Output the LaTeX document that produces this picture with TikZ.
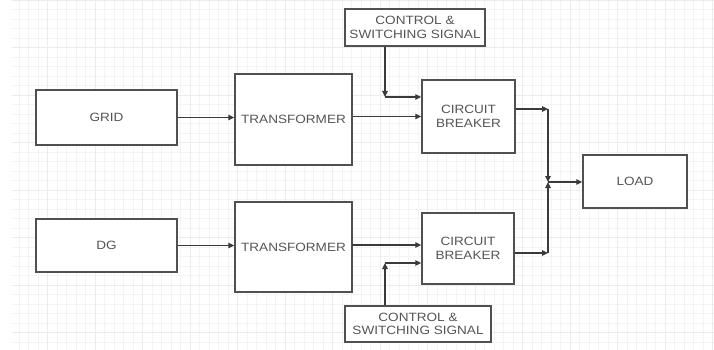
\documentclass[tikz,border=0pt]{standalone}
\usepackage{fontspec}
\setmainfont{Liberation Sans}[FakeStretch=1.13]
\usetikzlibrary{arrows.meta}
\definecolor{boxline}{HTML}{505050}
\definecolor{wire}{HTML}{3A3A3A}
\definecolor{txt}{HTML}{555555}
\definecolor{gridc}{HTML}{F4F4F4}
\definecolor{gridm}{HTML}{ECECEC}
\begin{document}
\begin{tikzpicture}[x=1pt,y=-1pt,
  blk/.style={draw=boxline,line width=1.4pt,fill=white,inner sep=0pt,
    text=txt,font=\fontsize{12}{13.5}\selectfont,align=center},
  arr/.style={draw=wire,line width=1.1pt,-{Triangle[length=6pt,width=5.5pt]}},
  ln/.style={draw=wire,line width=1.1pt}]
\useasboundingbox (0,0) rectangle (714,350);
\fill[white] (0,0) rectangle (714,350);
% faint background grid
\draw[gridc,line width=0.4pt] (12,0) grid[step=9.5pt] (714,350);
\draw[gridm,line width=0.6pt] (12,0) grid[step=47.5pt] (714,350);
% blocks
\node[blk,minimum width=141pt,minimum height=55pt] (grid) at (106.5,117.5) {GRID};
\node[blk,minimum width=117pt,minimum height=91pt] (t1) at (293.5,119.5) {TRANSFORMER};
\node[blk,minimum width=93pt,minimum height=73pt] (cb1) at (468.5,116.5) {CIRCUIT\\BREAKER};
\node[blk,minimum width=141pt,minimum height=53pt] (dg) at (106.5,245.5) {DG};
\node[blk,minimum width=117pt,minimum height=90pt] (t2) at (293.5,247) {TRANSFORMER};
\node[blk,minimum width=92pt,minimum height=71pt] (cb2) at (468,248.5) {CIRCUIT\\BREAKER};
\node[blk,minimum width=104pt,minimum height=53pt] (load) at (635,181.5) {LOAD};
\node[blk,minimum width=140pt,minimum height=37pt] (ctl1) at (415,27.5) {CONTROL \&\\SWITCHING SIGNAL};
\node[blk,minimum width=146pt,minimum height=36pt] (ctl2) at (418,324) {CONTROL \&\\SWITCHING SIGNAL};
% junction coordinates
\coordinate (c1) at (385,97);
\coordinate (c2) at (385,263);
\coordinate (r1) at (548,109);
\coordinate (r2) at (548,253);
\coordinate (jn) at (548,182);
\coordinate (t2o) at (352,245);
% connectors
\draw[arr] (grid.east) -- (grid.east -| t1.west);
\draw[arr] (t1.east |- cb1.west) -- (cb1.west);
\draw[arr] (dg.east) -- (dg.east -| t2.west);
\draw[arr] (t2o) -- (t2o -| cb2.west);
\draw[arr] (ctl1.south -| c1) -- (c1);
\draw[arr] (c1) -- (c1 -| cb1.west);
\draw[arr] (ctl2.north -| c2) -- (c2);
\draw[arr] (c2) -- (c2 -| cb2.west);
\draw[arr] (cb1.east |- r1) -- (r1);
\draw[arr] (cb2.east |- r2) -- (r2);
\draw[arr] (r1) -- (jn);
\draw[arr] (r2) -- (jn);
\draw[arr] (jn) -- (jn -| load.west);
\end{tikzpicture}
\end{document}
